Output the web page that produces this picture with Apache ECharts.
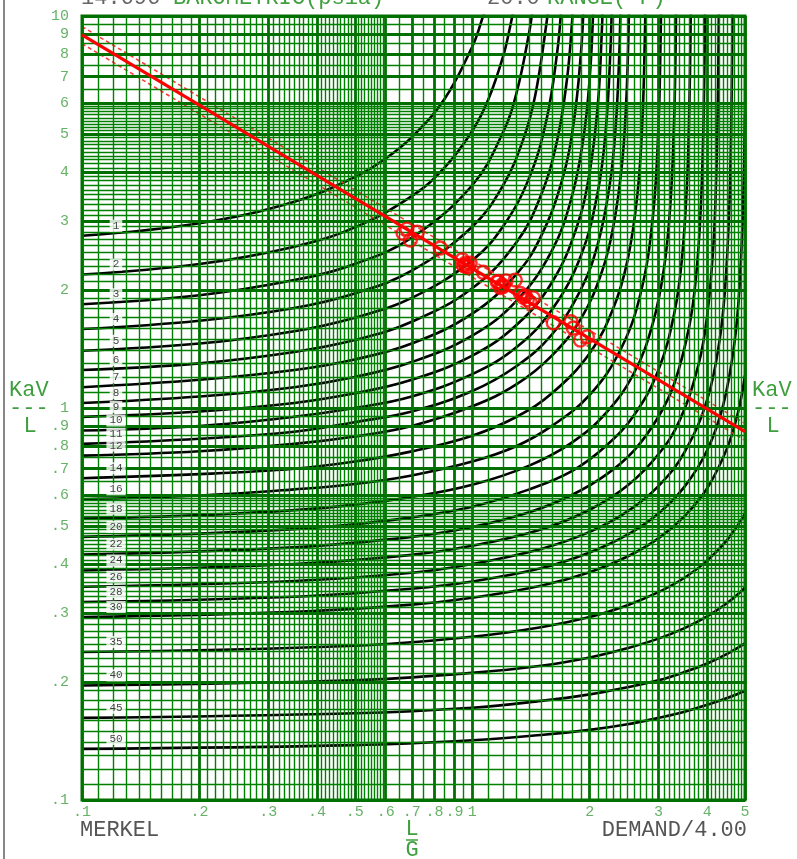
<!DOCTYPE html>
<html>
<head>
<meta charset="utf-8">
<script src="https://cdn.jsdelivr.net/npm/echarts/dist/echarts.min.js"></script>
<style>
  html, body { margin: 0; padding: 0; background: #fff; }
  #chart { width: 797px; height: 859px; }
</style>
</head>
<body>
<div id="chart"></div>
<script>
// Merkel demand curves, 20 °F range: KaV/L versus L/G, one curve per approach (°F)
const curveNames = ['1','2','3','4','5','6','7','8','9','10','11','12','14','16','18','20','22','24','26','28','30','35','40','45','50'];

const approach1  = [[0.1,2.75],[0.2,2.96],[0.35,3.36],[0.5,3.88],[0.6,4.33],[0.7,4.91],[0.85,6.15],[1.0,8.35],[1.05,9.53],[1.1,11.2]];
const approach2  = [[0.1,2.19],[0.2,2.33],[0.35,2.58],[0.5,2.89],[0.7,3.47],[0.85,4.11],[1.0,5.09],[1.1,6.13],[1.2,7.89],[1.25,9.37],[1.28,10.6]];
const approach3  = [[0.1,1.84],[0.2,1.94],[0.35,2.12],[0.5,2.33],[0.7,2.72],[1.0,3.70],[1.2,5.06],[1.3,6.39],[1.4,9.10],[1.43,10.6]];
const approach4  = [[0.1,1.59],[0.2,1.67],[0.35,1.80],[0.5,1.96],[0.7,2.24],[1.0,2.90],[1.2,3.70],[1.35,4.83],[1.45,6.27],[1.55,9.60],[1.57,10.9]];
const approach5  = [[0.1,1.40],[0.2,1.46],[0.35,1.57],[0.5,1.70],[0.7,1.91],[1.0,2.38],[1.2,2.91],[1.4,3.87],[1.55,5.44],[1.65,8.05],[1.69,10.4]];
const approach6  = [[0.1,1.25],[0.2,1.30],[0.35,1.39],[0.5,1.49],[0.7,1.66],[1.0,2.02],[1.3,2.65],[1.5,3.49],[1.65,4.81],[1.75,6.93],[1.8,9.49],[1.82,11.5]];
const approach7  = [[0.1,1.13],[0.2,1.18],[0.35,1.25],[0.5,1.33],[0.7,1.46],[1.0,1.74],[1.3,2.20],[1.5,2.74],[1.7,3.82],[1.82,5.35],[1.9,8.09],[1.93,10.8]];
const approach8  = [[0.1,1.03],[0.2,1.07],[0.35,1.13],[0.5,1.20],[0.7,1.31],[1.0,1.53],[1.3,1.88],[1.6,2.52],[1.8,3.46],[1.93,4.93],[2.0,6.95],[2.04,10.1]];
const approach9  = [[0.1,0.949],[0.2,0.98],[0.35,1.03],[0.5,1.09],[0.7,1.18],[1.0,1.36],[1.3,1.63],[1.6,2.09],[1.85,2.88],[2.0,4.00],[2.1,6.00],[2.15,9.31],[2.16,10.9]];
const approach10 = [[0.1,0.876],[0.2,0.90],[0.35,0.95],[0.5,1.00],[0.7,1.07],[1.0,1.22],[1.3,1.43],[1.6,1.78],[1.9,2.45],[2.1,3.58],[2.2,5.16],[2.26,8.17],[2.28,11.2]];
const approach11 = [[0.1,0.81],[0.2,0.835],[0.35,0.87],[0.5,0.92],[0.7,0.98],[1.0,1.105],[1.3,1.28],[1.6,1.54],[1.9,2.01],[2.1,2.63],[2.25,3.70],[2.33,5.17],[2.38,7.87],[2.40,10.9]];
const approach12 = [[0.1,0.756],[0.2,0.776],[0.35,0.81],[0.5,0.846],[0.7,0.90],[1.0,1.01],[1.3,1.15],[1.6,1.36],[1.9,1.69],[2.15,2.23],[2.3,2.91],[2.42,4.19],[2.48,6.01],[2.51,8.45],[2.525,11.3]];
const approach14 = [[0.1,0.662],[0.2,0.678],[0.35,0.70],[0.5,0.73],[0.7,0.775],[1.0,0.85],[1.3,0.95],[1.6,1.09],[2.0,1.38],[2.3,1.80],[2.5,2.38],[2.65,3.50],[2.73,5.43],[2.77,8.97],[2.78,11.3]];
const approach16 = [[0.1,0.585],[0.2,0.598],[0.35,0.62],[0.5,0.64],[0.7,0.673],[1.0,0.73],[1.3,0.80],[1.6,0.90],[2.0,1.08],[2.4,1.41],[2.7,1.96],[2.9,3.04],[3.0,5.21],[3.04,8.93],[3.05,11.4]];
const approach18 = [[0.1,0.522],[0.2,0.533],[0.35,0.549],[0.5,0.567],[0.7,0.593],[1.0,0.637],[1.4,0.713],[1.8,0.816],[2.2,0.97],[2.6,1.23],[2.9,1.64],[3.1,2.27],[3.22,3.32],[3.29,5.36],[3.32,8.27],[3.335,12.2]];
const approach20 = [[0.1,0.469],[0.2,0.478],[0.35,0.491],[0.5,0.505],[0.7,0.526],[1.0,0.56],[1.4,0.62],[1.8,0.69],[2.2,0.80],[2.6,0.96],[3.0,1.25],[3.3,1.76],[3.45,2.43],[3.55,3.72],[3.6,5.83],[3.625,9.01],[3.635,12.0]];
const approach22 = [[0.1,0.423],[0.35,0.441],[0.7,0.469],[1.0,0.497],[1.4,0.542],[1.8,0.60],[2.2,0.675],[2.6,0.78],[3.0,0.95],[3.3,1.16],[3.6,1.62],[3.75,2.19],[3.85,3.21],[3.91,5.12],[3.94,8.2],[3.955,12.5]];
const approach24 = [[0.1,0.385],[0.35,0.40],[0.7,0.422],[1.0,0.445],[1.5,0.49],[2.0,0.55],[2.5,0.634],[3.0,0.762],[3.4,0.93],[3.8,1.29],[4.0,1.72],[4.15,2.61],[4.22,3.92],[4.26,6.11],[4.28,9.09],[4.29,12.4]];
const approach26 = [[0.1,0.35],[0.35,0.362],[0.7,0.38],[1.0,0.40],[1.5,0.437],[2.0,0.483],[2.5,0.545],[3.0,0.632],[3.5,0.772],[4.0,1.05],[4.3,1.48],[4.45,2.05],[4.55,3.10],[4.6,4.65],[4.63,7.24],[4.645,10.5]];
const approach28 = [[0.1,0.32],[0.35,0.33],[0.7,0.346],[1.0,0.361],[1.5,0.39],[2.0,0.428],[2.5,0.475],[3.0,0.538],[3.5,0.63],[4.0,0.78],[4.4,1.02],[4.7,1.47],[4.85,2.11],[4.95,3.47],[5.0,5.6]];
const approach30 = [[0.1,0.293],[0.35,0.302],[0.7,0.315],[1.0,0.328],[1.5,0.352],[2.0,0.381],[2.5,0.418],[3.0,0.465],[3.5,0.53],[4.0,0.624],[4.5,0.79],[4.8,0.976],[5.0,1.21]];
const approach35 = [[0.1,0.2385],[0.5,0.2475],[1.0,0.261],[1.5,0.276],[2.0,0.293],[2.5,0.314],[3.0,0.339],[3.5,0.369],[4.0,0.408],[4.5,0.461],[5.0,0.537]];
const approach40 = [[0.1,0.196],[0.5,0.202],[1.0,0.211],[1.5,0.220],[2.0,0.231],[2.5,0.244],[3.0,0.258],[3.5,0.2745],[4.0,0.294],[4.5,0.318],[5.0,0.348]];
const approach45 = [[0.1,0.162],[0.5,0.1665],[1.0,0.172],[1.5,0.179],[2.0,0.186],[2.5,0.194],[3.0,0.202],[3.5,0.212],[4.0,0.223],[4.5,0.236],[5.0,0.251]];
const approach50 = [[0.1,0.135],[0.5,0.138],[1.0,0.142],[1.5,0.1465],[2.0,0.151],[2.5,0.156],[3.0,0.162],[3.5,0.168],[4.0,0.175],[4.5,0.182],[5.0,0.190]];

const curves = [approach1, approach2, approach3, approach4, approach5, approach6, approach7, approach8,
  approach9, approach10, approach11, approach12, approach14, approach16, approach18, approach20,
  approach22, approach24, approach26, approach28, approach30, approach35, approach40, approach45, approach50];

// Tower characteristic line and its tolerance band
const characteristic = [[0.1, 8.95], [5, 0.87]];
const characteristicHigh = [[0.1, 9.4], [5, 0.913]];
const characteristicLow = [[0.1, 8.5], [5, 0.827]];

// Test points (L/G, KaV/L)
const testLG   = [0.665, 0.68, 0.694, 0.723, 0.828, 0.943, 0.95, 0.96, 0.965, 0.977, 0.988, 1.067, 1.159, 1.166, 1.18, 1.194, 1.2, 1.22, 1.289, 1.328, 1.35, 1.367, 1.384, 1.408, 1.433, 1.613, 1.79, 1.815, 1.892, 1.972];
const testKaVL = [2.79, 2.86, 2.68, 2.81, 2.56, 2.39, 2.31, 2.34, 2.30, 2.29, 2.34, 2.22, 2.10, 2.10, 2.03, 2.06, 2.04, 2.11, 2.12, 1.96, 1.92, 1.93, 1.89, 1.86, 1.91, 1.65, 1.66, 1.60, 1.49, 1.52];

// Axis tick labels
const xTicks = [0.1, 0.2, 0.3, 0.4, 0.5, 0.6, 0.7, 0.8, 0.9, 1, 2, 3, 4, 5];
const xTickText = ['.1', '.2', '.3', '.4', '.5', '.6', '.7', '.8', '.9', '1', '2', '3', '4', '5'];
const yTicks = [10, 9, 8, 7, 6, 5, 4, 3, 2, 1, 0.9, 0.8, 0.7, 0.6, 0.5, 0.4, 0.3, 0.2, 0.1];
const yTickText = ['10', '9', '8', '7', '6', '5', '4', '3', '2', '1', '.9', '.8', '.7', '.6', '.5', '.4', '.3', '.2', '.1'];

// Chart-paper rulings: [from, to, step]
const xRulings = [[0.1, 0.6, 0.01], [0.6, 1, 0.05], [1, 5, 0.1]];
const yRulings = [[0.1, 0.6, 0.01], [0.6, 1, 0.05], [1, 6, 0.1], [6, 10, 0.5]];

const GREEN = '#008000';
const LABEL_GREEN = '#3f9f3f';
const MONO = '"Liberation Mono", "DejaVu Sans Mono", monospace';

function rulingValues(bands) {
  const vals = [];
  bands.forEach(([from, to, step]) => {
    const n = Math.round((to - from) / step);
    for (let i = 0; i < n; i++) vals.push(+(from + i * step).toFixed(4));
  });
  vals.push(bands[bands.length - 1][1]);
  return vals;
}
function isMajor(v) {
  const d = Math.pow(10, Math.floor(Math.log10(v) + 1e-9));
  const m = v / d;
  return Math.abs(m - Math.round(m)) < 1e-6;
}
function rulingLines(bands, key) {
  return rulingValues(bands).map(v => ({
    [key]: v,
    lineStyle: isMajor(v)
      ? { color: '#007000', width: 2.8, type: 'solid' }
      : { color: GREEN, width: 1.4, type: 'solid' }
  }));
}

const chart = echarts.init(document.getElementById('chart'), null, { renderer: 'canvas' });

const series = [];

// paper rulings
series.push({
  type: 'line', data: [], silent: true, z: 1,
  markLine: {
    silent: true, symbol: ['none', 'none'], animation: false,
    label: { show: false },
    emphasis: { disabled: true },
    data: rulingLines(xRulings, 'xAxis').concat(rulingLines(yRulings, 'yAxis'))
  }
});

// demand curves
curves.forEach((c, i) => {
  series.push({
    type: 'line', name: curveNames[i], data: c, showSymbol: false,
    smooth: 0.4, clip: true, z: 3, silent: true,
    lineStyle: { color: '#000', width: 2.6 }
  });
});

// characteristic band and line
[characteristicHigh, characteristicLow].forEach(d => {
  series.push({
    type: 'line', data: d, showSymbol: false, z: 4, silent: true,
    lineStyle: { color: '#ff3a3a', width: 1.6, type: [4, 3] }
  });
});
series.push({
  type: 'line', data: characteristic, showSymbol: false, z: 5, silent: true,
  lineStyle: { color: '#ff0000', width: 3.2 }
});

// test points
series.push({
  type: 'scatter', z: 6, silent: true,
  data: testLG.map((x, i) => [x, testKaVL[i]]),
  symbol: 'circle', symbolSize: 13,
  itemStyle: { color: 'rgba(0,0,0,0)', borderColor: '#ff0000', borderWidth: 2.4 }
});

// approach labels at the start of each curve
series.push({
  type: 'scatter', z: 7, silent: true, clip: false, symbolSize: 0,
  data: curves.map((c, i) => ({ name: curveNames[i], value: c[0] })),
  label: {
    show: true, formatter: '{b}', position: 'inside', offset: [34, -10],
    color: '#111', fontSize: 11, fontFamily: MONO,
    backgroundColor: '#fff', padding: [1, 3, 0, 3]
  }
});

// y tick labels
series.push({
  type: 'scatter', z: 7, silent: true, clip: false, symbolSize: 0,
  data: yTicks.map((v, i) => ({ name: yTickText[i], value: [0.1, v] })),
  label: {
    show: true, formatter: '{b}', position: 'left', distance: 13,
    color: LABEL_GREEN, fontSize: 15, fontFamily: MONO
  }
});

// x tick labels
series.push({
  type: 'scatter', z: 7, silent: true, clip: false, symbolSize: 0,
  data: xTicks.map((v, i) => ({ name: xTickText[i], value: [v, 0.1] })),
  label: {
    show: true, formatter: '{b}', position: 'bottom', distance: 5,
    color: LABEL_GREEN, fontSize: 15, fontFamily: MONO
  }
});

const bigFont = '22px ' + MONO;
function txt(x, y, text, fill, align) {
  return { type: 'text', x: x, y: y, silent: true, z: 10,
    style: { text: text, fill: fill, font: bigFont, align: align || 'left', verticalAlign: 'middle' } };
}

const option = {
  animation: false,
  backgroundColor: '#fff',
  grid: { left: 82, right: 52, top: 16, bottom: 59, show: true, borderColor: '#007000', borderWidth: 3, backgroundColor: '#fff' },
  xAxis: {
    type: 'log', logBase: 10, min: 0.1, max: 5,
    axisLine: { show: false }, axisTick: { show: false }, axisLabel: { show: false }, splitLine: { show: false }
  },
  yAxis: {
    type: 'log', logBase: 10, min: 0.1, max: 10,
    axisLine: { show: false }, axisTick: { show: false }, axisLabel: { show: false }, splitLine: { show: false }
  },
  series: series,
  graphic: [
    { type: 'line', silent: true, shape: { x1: 4, y1: 0, x2: 4, y2: 859 }, style: { stroke: '#888', lineWidth: 2 } },
    // header, partly above the page edge
    { type: 'text', x: 81, y: 9, silent: true, style: { text: '14.696', fill: '#666', font: bigFont, verticalAlign: 'bottom' } },
    { type: 'text', x: 173, y: 9, silent: true, style: { text: 'BAROMETRIC(psia)', fill: LABEL_GREEN, font: bigFont, verticalAlign: 'bottom' } },
    { type: 'text', x: 487, y: 9, silent: true, style: { text: '20.0', fill: '#666', font: bigFont, verticalAlign: 'bottom' } },
    { type: 'text', x: 547, y: 9, silent: true, style: { text: 'RANGE(°F)', fill: LABEL_GREEN, font: bigFont, verticalAlign: 'bottom' } },
    // footer
    txt(80, 830, 'MERKEL', '#555'),
    txt(747, 830, 'DEMAND/4.00', '#555', 'right'),
    txt(412, 829, 'L', LABEL_GREEN, 'center'),
    { type: 'line', silent: true, shape: { x1: 406, y1: 840, x2: 418, y2: 840 }, style: { stroke: LABEL_GREEN, lineWidth: 1.5 } },
    txt(412, 850, 'G', LABEL_GREEN, 'center'),
    // side titles
    txt(9, 390, 'KaV', LABEL_GREEN),
    txt(9, 408, '---', LABEL_GREEN),
    txt(30, 426, 'L', LABEL_GREEN, 'center'),
    txt(752, 390, 'KaV', LABEL_GREEN),
    txt(752, 408, '---', LABEL_GREEN),
    txt(773, 426, 'L', LABEL_GREEN, 'center')
  ]
};

chart.setOption(option);
</script>
</body>
</html>
